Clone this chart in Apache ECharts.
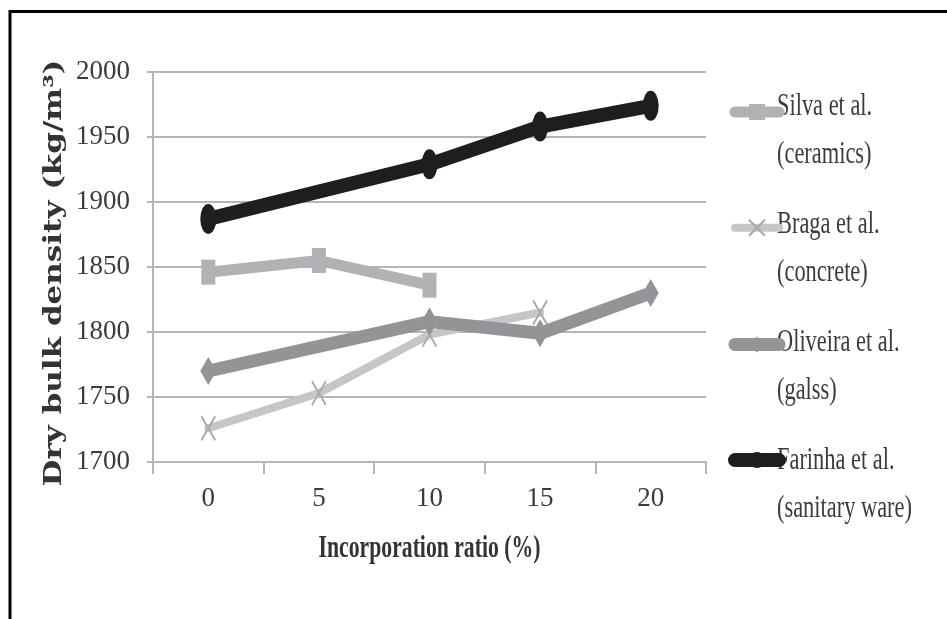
<!DOCTYPE html>
<html>
<head>
<meta charset="utf-8">
<script src="https://cdn.jsdelivr.net/npm/echarts@6/dist/echarts.min.js"></script>
<style>
  html, body { margin: 0; padding: 0; background: #ffffff; }
  #chart { width: 947px; height: 619px; }
</style>
</head>
<body>
<div id="chart"></div>
<script>
// Incorporation ratio of recycled waste (%)
const ratios = ['0', '5', '10', '15', '20'];

// Dry bulk density (kg/m3) per study; null = not tested
const silva    = [1846, 1855, 1836, null, null];
const braga    = [1726, 1753, 1798, 1815, null];
const oliveira = [1770, null, 1808, 1799, 1830];
const farinha  = [1887, null, 1929, 1958, 1974];

const seriesNames = [
  'Silva et al.\n(ceramics)',
  'Braga et al.\n(concrete)',
  'Oliveira et al.\n(galss)',
  'Farinha et al.\n(sanitary ware)'
];

const yMin = 1700, yMax = 2000, yStep = 50;
const xTitle = 'Incorporation ratio (%)';
const yTitle = 'Dry bulk density (kg/m\u00b3)';

// Layout
const plot = { left: 153, right: 706, top: 72, bottom: 462 };
const textColor = '#3b3b3b';
const gridColor = '#b5b5b5';

const ellipse = 'path://M0,-1A1,1 0 1,1 0,1A1,1 0 1,1 0,-1Z';
const cross = 'path://M0,0L10,10M10,0L0,10';

function lineSeries(name, values, color, width, symbol, size, extraItem) {
  return {
    name: name,
    type: 'line',
    data: values,
    connectNulls: true,
    symbol: symbol,
    symbolSize: size,
    showSymbol: true,
    lineStyle: { color: color, width: width, cap: 'round', join: 'round' },
    itemStyle: Object.assign({ color: color }, extraItem || {}),
    emphasis: { disabled: true }
  };
}

const series = [
  lineSeries(seriesNames[0], silva, '#b1b2b6', 11, 'rect', [14, 25]),
  lineSeries(seriesNames[1], braga, '#c6c6c8', 8, cross, [14, 24],
             { borderColor: '#a8a8aa', borderWidth: 2 }),
  lineSeries(seriesNames[2], oliveira, '#949498', 13, 'diamond', [16, 28]),
  lineSeries(seriesNames[3], farinha, '#1f1d1e', 14, ellipse, [16, 30])
];

// Legend labels, drawn as narrow two-line text beside the legend keys
const legendTop = 107, legendStep = 117.7, legendLineGap = 48;
const legendKeyH = 20;
const legendTexts = [];
seriesNames.forEach(function (name, i) {
  name.split('\n').forEach(function (line, j) {
    legendTexts.push({
      type: 'text',
      x: 777,
      y: legendTop + i * legendStep + j * legendLineGap,
      scaleX: 0.7,
      silent: true,
      style: {
        text: line,
        font: '32px "Liberation Serif"',
        fill: textColor,
        align: 'left',
        verticalAlign: 'middle'
      }
    });
  });
});

const chart = echarts.init(document.getElementById('chart'), null, { renderer: 'canvas' });

chart.setOption({
  animation: false,
  backgroundColor: '#ffffff',
  grid: {
    left: plot.left,
    right: 947 - plot.right,
    top: plot.top,
    bottom: 619 - plot.bottom,
    containLabel: false
  },
  legend: {
    orient: 'vertical',
    left: 723,
    top: legendTop - legendKeyH / 2,
    itemWidth: 44,
    itemHeight: legendKeyH,
    itemGap: legendStep - legendKeyH,
    selectedMode: false,
    formatter: function () { return ''; },
    textStyle: { fontSize: 1 },
    lineStyle: { width: 'inherit', cap: 'round' },
    data: seriesNames
  },
  xAxis: {
    type: 'category',
    data: ratios,
    boundaryGap: true,
    axisLine: { show: true, lineStyle: { color: gridColor, width: 2 } },
    axisTick: { show: true, length: 12, lineStyle: { color: gridColor, width: 2 } },
    axisLabel: {
      margin: 23,
      fontFamily: 'Liberation Serif',
      fontSize: 27,
      color: textColor
    },
    splitLine: { show: false }
  },
  yAxis: {
    type: 'value',
    min: yMin,
    max: yMax,
    interval: yStep,
    axisLine: { show: true, lineStyle: { color: gridColor, width: 2 } },
    axisTick: { show: true, length: 6, lineStyle: { color: gridColor, width: 2 } },
    axisLabel: {
      margin: 23,
      fontFamily: 'Liberation Serif',
      fontSize: 27,
      color: textColor,
      formatter: function (v) { return String(v); }
    },
    splitLine: { show: true, lineStyle: { color: gridColor, width: 2 } }
  },
  series: series,
  graphic: [
    // figure frame (top and left rules)
    {
      type: 'polyline',
      silent: true,
      shape: { points: [[10, 619], [10, 11.5], [947, 11.5]] },
      style: { stroke: '#000000', lineWidth: 3, fill: null }
    },
    // y-axis title
    {
      type: 'text',
      x: 55,
      y: (plot.top + plot.bottom) / 2 + 6,
      rotation: Math.PI / 2,
      scaleY: 0.75,
      silent: true,
      style: {
        text: yTitle,
        font: 'bold 31px "DejaVu Serif"',
        fill: '#333333',
        align: 'center',
        verticalAlign: 'middle'
      }
    },
    // x-axis title
    {
      type: 'text',
      x: (plot.left + plot.right) / 2,
      y: 549,
      scaleX: 0.7,
      silent: true,
      style: {
        text: xTitle,
        font: 'bold 31px "Liberation Serif"',
        fill: '#333333',
        align: 'center',
        verticalAlign: 'middle'
      }
    }
  ].concat(legendTexts)
});
</script>
</body>
</html>
